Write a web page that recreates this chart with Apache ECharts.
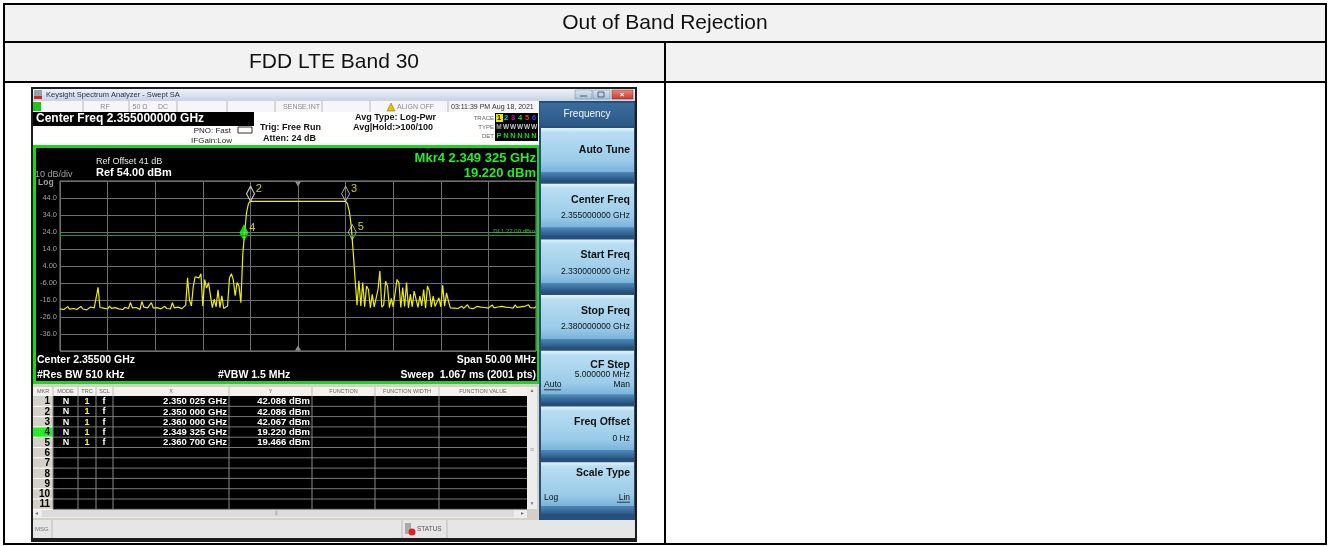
<!DOCTYPE html>
<html>
<head>
<meta charset="utf-8">
<title>Out of Band Rejection</title>
<script src="https://cdn.jsdelivr.net/npm/echarts/dist/echarts.min.js"></script>
<style>
  html, body { margin: 0; padding: 0; background: #fff; }
  #chart { width: 1330px; height: 546px; }
</style>
</head>
<body>
<div id="chart"></div>
<script>
(function () {
  'use strict';

  // ---- data ----
  const traceStartGHz = 2.330;
  const traceStepGHz = 0.0002;
  const traceDbm = [
    // 2.3300 .. 2.3430 noise floor
    -21.2, -20.4, -21.6, -20.8, -19.9, -21.4, -20.6, -21.0, -20.2, -21.5,
    -20.7, -19.8, -21.3, -20.5, -21.8, -20.9, -20.1, -21.2, -20.6, -21.0,
    -8.6, -20.4, -21.5, -20.8, -20.2, -21.3, -19.6, -20.9, -21.4, -20.5,
    -20.0, -21.2, -20.7, -21.6, -20.3, -19.8, -21.0, -17.4, -20.6, -21.3,
    -20.4, -20.9, -21.5, -16.9, -20.2, -21.1, -20.6, -19.9, -17.6, -20.8,
    -21.4, -20.5, -20.1, -21.2, -20.7, -19.7, -21.0, -20.4, -21.3, -17.5,
    -20.6, -21.0, -20.2, -19.5, -21.1, -20.3,
    // lower spurs
    -19.0, -3.0, -16.0, -19.5, -8.0, -2.3, -1.5, -3.0, -0.6, -19.5,
    -4.0, -9.0, -5.8, -6.5, -20.5, -15.5, -20.0, -10.0, -20.5, -13.5,
    -21.0, -20.0, -19.5, -3.0, -0.5, -4.0, -13.5, -5.8, -7.8, -17.6,
    // lower edge
    11.0, 24.0, 35.5, 40.8,
    // in band 2.3500 .. 2.3600
    42.09, 42.05, 42.02, 42.06, 42.08, 42.03, 42.01, 42.05, 42.07, 42.04,
    42.02, 42.06, 42.08, 42.05, 42.03, 42.07, 42.04, 42.02, 42.06, 42.05,
    42.08, 42.03, 42.05, 42.07, 42.02, 42.04, 42.06, 42.03, 42.08, 42.05,
    42.02, 42.06, 42.04, 42.07, 42.03, 42.05, 42.08, 42.02, 42.06, 42.04,
    42.05, 42.07, 42.03, 42.06, 42.02, 42.05, 42.08, 42.04, 42.06, 42.03,
    42.07,
    // upper edge
    40.5, 36.0, 27.0, 12.0, -4.0, -19.0,
    // upper spurs
    -4.7, -19.5, -5.8, -20.0, -7.8, -9.8, -20.5, -12.7, -20.0, -19.5,
    -10.0, 1.0, -20.2, -19.0, -5.0, -7.8, -20.5, -15.0, -20.0, -19.6,
    -3.9, -5.8, -20.4, -8.7, -19.8, -5.8, -20.6, -12.7, -20.0, -10.8,
    -15.5, -20.3, -13.7, -19.5, -9.8, -20.8, -7.8, -10.8, -20.2, -13.7,
    -19.8, -20.5, -14.7, -20.0, -7.4, -19.6, -11.8, -16.6,
    // 2.3610 .. 2.3800 noise floor
    -20.6, -19.9, -20.8, -20.2, -21.0, -20.4, -19.7, -20.9, -20.3, -18.8,
    -20.7, -20.1, -21.1, -20.5, -19.8, -20.6, -20.2, -20.9, -20.4, -19.9,
    -20.8, -20.3, -18.9, -20.6, -21.0, -20.1, -20.5, -19.8, -20.7, -20.2,
    -20.9, -20.4, -19.6, -20.8, -18.9, -20.3, -20.7, -20.0, -20.6, -19.8,
    -20.4, -18.8, -20.5, -20.1, -20.7, -19.9
  ];

  const markerNames = ['1', '2', '3', '4', '5'];
  const markerFreqGHz = [2.350025, 2.350000, 2.360000, 2.349325, 2.360700];
  const markerDbm = [42.086, 42.086, 42.067, 19.220, 19.466];
  const activeMarker = 3;
  const displayLineDbm = 22;
  const centerFreqGHz = 2.355;
  const startFreqGHz = 2.330;
  const stopFreqGHz = 2.380;
  const refLevelDbm = 54;
  const bottomDbm = -46;
  const yTickValues = [44, 34, 24, 14, 4, -6, -16, -26, -36];
  const yTickLabels = ['44.0', '34.0', '24.0', '14.0', '4.00', '-6.00', '-16.0', '-26.0', '-36.0'];

  const softkeyTitles = ['Auto Tune', 'Center Freq', 'Start Freq', 'Stop Freq', 'CF Step', 'Freq Offset', 'Scale Type'];
  const softkeyValues = ['', '2.355000000 GHz', '2.330000000 GHz', '2.380000000 GHz', '5.000000 MHz', '0 Hz', ''];

  const tableHeaders = ['MKR', 'MODE', 'TRC', 'SCL', 'X', 'Y', 'FUNCTION', 'FUNCTION WIDTH', 'FUNCTION VALUE'];
  const tableRowCount = 11;

  // ---- drawing helpers ----
  const FONT = "'Liberation Sans', Arial, sans-serif";

  function rect(x, y, w, h, fill, extra) {
    return Object.assign({ type: 'rect', silent: true, z: -5, shape: { x: x, y: y, width: w, height: h }, style: { fill: fill } }, extra || {});
  }
  function line(x1, y1, x2, y2, stroke, w, z) {
    return { type: 'line', silent: true, z: z == null ? -4 : z, shape: { x1: x1, y1: y1, x2: x2, y2: y2 }, style: { stroke: stroke, lineWidth: w || 1 } };
  }
  function text(x, y, s, size, color, opts) {
    opts = opts || {};
    const align = opts.align || 'left';
    return {
      type: 'text', silent: true, z: 10, x: x, y: y,
      style: {
        text: s, fill: color,
        font: (opts.bold ? 'bold ' : '') + size + 'px ' + FONT,
        align: align, textAlign: align, verticalAlign: 'middle', textVerticalAlign: 'middle'
      }
    };
  }
  function vgrad(stops) {
    return new echarts.graphic.LinearGradient(0, 0, 0, 1, stops.map(s => ({ offset: s[0], color: s[1] })));
  }
  function fmtGHz(f) {
    return f.toFixed(6).replace(/^(\d\.\d{3})/, '$1 ') + ' GHz';
  }

  const g = [];

  // ---- outer report table ----
  g.push(rect(4, 4, 1322, 38, '#f2f2f2'));
  g.push(rect(4, 42, 1322, 40, '#f2f2f2'));
  [4, 42, 82, 544].forEach(y => g.push(line(3, y, 1327, y, '#000', 2)));
  [4, 1326].forEach(x => g.push(line(x, 3, x, 545, '#000', 2)));
  g.push(line(665, 42, 665, 545, '#000', 2));
  g.push(text(665, 23, 'Out of Band Rejection', 21, '#111', { align: 'center' }));
  g.push(text(334, 62, 'FDD LTE Band 30', 21, '#111', { align: 'center' }));

  // ---- analyzer window frame ----
  g.push(rect(31, 87, 606, 455, '#1c1c1c'));
  g.push(rect(33, 89, 602, 12, vgrad([[0, '#eef2f8'], [1, '#c6d3e4']])));
  g.push(rect(34, 90, 8, 6, '#9aa0a8'));
  g.push(rect(34, 96, 8, 3, '#d02828'));
  g.push(text(46, 95, 'Keysight Spectrum Analyzer - Swept SA', 7.5, '#1e2c48'));
  const btnFill = vgrad([[0, '#dde8f4'], [1, '#a9bfd8']]);
  g.push(rect(575, 90, 17, 9, btnFill, { style: { fill: btnFill, stroke: '#6f86a0', lineWidth: 0.5 } }));
  g.push(rect(593, 90, 17, 9, btnFill, { style: { fill: btnFill, stroke: '#6f86a0', lineWidth: 0.5 } }));
  const closeFill = vgrad([[0, '#e88b80'], [1, '#c8382c']]);
  g.push(rect(612, 90, 21, 9, closeFill, { style: { fill: closeFill, stroke: '#8a2a22', lineWidth: 0.5 } }));
  g.push(line(580, 96, 587, 96, '#45607e', 1, -3));
  g.push(rect(598, 92, 6, 5, 'none', { z: -3, style: { fill: 'none', stroke: '#45607e', lineWidth: 1 } }));
  g.push(text(622, 94.5, '×', 8, '#fff', { align: 'center', bold: true }));

  // status row
  g.push(rect(33, 101, 506, 11, '#f7f5f7'));
  g.push(rect(33, 102, 8, 9, '#18c818'));
  [83, 129, 177, 227, 275, 322, 370, 448].forEach(x => g.push(line(x, 101, x, 112, '#b8b8b8', 1)));
  g.push(text(105, 107, 'RF', 7, '#8a8a8a', { align: 'center' }));
  g.push(text(140, 107, '50 Ω', 7, '#8a8a8a', { align: 'center' }));
  g.push(text(163, 107, 'DC', 7, '#8a8a8a', { align: 'center' }));
  g.push(text(320, 107, 'SENSE:INT', 7, '#8a8a8a', { align: 'right' }));
  g.push({ type: 'polygon', silent: true, z: 10, shape: { points: [[387, 111], [391, 103], [395, 111]] }, style: { fill: '#e8c000', stroke: '#806000', lineWidth: 0.5 } });
  g.push(text(397, 107, 'ALIGN OFF', 7, '#8a8a8a'));
  g.push(text(451, 107, '03:11:39 PM Aug 18, 2021', 7, '#333'));

  // settings area
  g.push(rect(33, 112, 506, 34, '#ffffff'));
  g.push(rect(33, 112, 221, 14, '#000'));
  g.push(text(36, 119, 'Center Freq 2.355000000 GHz', 12, '#fff', { bold: true }));
  g.push(text(231, 131, 'PNO: Fast', 8, '#222', { align: 'right' }));
  g.push(text(232, 141, 'IFGain:Low', 8, '#222', { align: 'right' }));
  g.push(rect(238, 127, 14, 6, 'none', { z: 10, style: { fill: 'none', stroke: '#333', lineWidth: 1 } }));
  g.push(text(260, 128, 'Trig: Free Run', 9, '#111', { bold: true }));
  g.push(text(263, 139, 'Atten: 24 dB', 9, '#111', { bold: true }));
  g.push(text(355, 118, 'Avg Type: Log-Pwr', 9, '#111', { bold: true }));
  g.push(text(353, 128, 'Avg|Hold:>100/100', 9, '#111', { bold: true }));
  g.push(text(494, 118, 'TRACE', 6, '#666', { align: 'right' }));
  g.push(text(494, 127, 'TYPE', 6, '#666', { align: 'right' }));
  g.push(text(494, 136, 'DET', 6, '#666', { align: 'right' }));
  g.push(rect(495, 113, 43, 28, '#000'));
  const traceColors = ['#000', '#00e0e0', '#e000e0', '#20e020', '#ff3030', '#4040ff'];
  for (let k = 0; k < 6; k++) {
    const cx = 499 + k * 7;
    if (k === 0) g.push(rect(cx - 3, 114, 7, 8, '#e8e800', { z: 9 }));
    g.push(text(cx, 118, String(k + 1), 7.5, traceColors[k], { bold: true, align: 'center' }));
    g.push(text(cx, 127, k === 0 ? 'M' : 'W', 6.5, k === 0 ? '#aaa' : '#ccc', { bold: true, align: 'center' }));
    g.push(text(cx, 136, k === 0 ? 'P' : 'N', 7.5, '#20d020', { bold: true, align: 'center' }));
  }

  // display area
  g.push(rect(33, 145, 507, 239, '#18d818'));
  g.push(rect(36, 148, 501, 233, '#000'));
  g.push(text(96, 162, 'Ref Offset 41 dB', 9, '#e8e8e8'));
  g.push(text(96, 173, 'Ref ' + refLevelDbm.toFixed(2) + ' dBm', 11, '#fff', { bold: true }));
  g.push(text(35, 175, '10 dB/div', 9, '#a0a0a0'));
  g.push(text(38, 183, 'Log', 8.5, '#a0a0a0', { bold: true }));
  g.push(text(536, 158, 'Mkr4 ' + fmtGHz(markerFreqGHz[activeMarker]), 13, '#22ee22', { bold: true, align: 'right' }));
  g.push(text(536, 173, markerDbm[activeMarker].toFixed(3) + ' dBm', 13, '#22ee22', { bold: true, align: 'right' }));
  g.push(text(37, 360, 'Center ' + centerFreqGHz.toFixed(5) + ' GHz', 10.5, '#fff', { bold: true }));
  g.push(text(37, 375, '#Res BW 510 kHz', 10.5, '#fff', { bold: true }));
  g.push(text(218, 375, '#VBW 1.5 MHz', 10.5, '#fff', { bold: true }));
  g.push(text(536, 360, 'Span ' + ((stopFreqGHz - startFreqGHz) * 1000).toFixed(2) + ' MHz', 10.5, '#fff', { bold: true, align: 'right' }));
  g.push(text(536, 375, 'Sweep  1.067 ms (2001 pts)', 10.5, '#fff', { bold: true, align: 'right' }));

  // marker table
  g.push(rect(33, 384, 506, 136, '#d4d0c8'));
  const colX = [33, 53, 78, 96, 113, 229, 312, 375, 439, 527];
  g.push(rect(33, 387, 494, 9, '#f2f1ed'));
  for (let c = 0; c < tableHeaders.length; c++) {
    const cx = (colX[c] + colX[c + 1]) / 2;
    g.push(text(cx, 391.5, tableHeaders[c], 5.5, '#666', { align: 'center' }));
    if (c > 0) g.push(line(colX[c], 387, colX[c], 396, '#c0c0c0', 1));
  }
  const rowTop = 396, rowH = 10.3;
  g.push(rect(53, rowTop, 474, rowH * tableRowCount, '#000'));
  for (let r = 0; r < tableRowCount; r++) {
    const y0 = rowTop + r * rowH;
    const cy = y0 + rowH / 2;
    if (r === activeMarker) g.push(rect(33, y0, 20, rowH, '#22ee22', { z: -4 }));
    g.push(text(50, cy + 0.5, String(r + 1), 10, '#000', { bold: true, align: 'right' }));
    if (r < markerNames.length) {
      g.push(text(66, cy + 0.5, 'N', 9, '#fff', { bold: true, align: 'center' }));
      g.push(text(87, cy + 0.5, '1', 9, '#ffff00', { bold: true, align: 'center' }));
      g.push(text(104, cy + 0.5, 'f', 9, '#fff', { bold: true, align: 'center' }));
      g.push(text(227, cy + 0.5, fmtGHz(markerFreqGHz[r]), 9.5, '#fff', { bold: true, align: 'right' }));
      g.push(text(310, cy + 0.5, markerDbm[r].toFixed(3) + ' dBm', 9.5, '#fff', { bold: true, align: 'right' }));
    }
    g.push(line(53, y0 + rowH, 527, y0 + rowH, '#777', 1, -3));
    g.push(line(33, y0 + rowH, 53, y0 + rowH, '#fff', 1, -3));
  }
  for (let c = 1; c < colX.length - 1; c++) {
    g.push(line(colX[c], rowTop, colX[c], rowTop + rowH * tableRowCount, '#888', 1, -3));
  }
  // scrollbars
  g.push(rect(527, 387, 10, 122, '#ededed'));
  g.push(text(532, 391, '▲', 5, '#777', { align: 'center' }));
  g.push(text(532, 504, '▼', 5, '#777', { align: 'center' }));
  g.push(text(532, 450, '≡', 7, '#999', { align: 'center' }));
  g.push(rect(33, 509, 494, 9, '#ededed'));
  g.push(rect(42, 510, 472, 7, '#dcdcdc'));
  g.push(text(36, 513.5, '◂', 6, '#777', { align: 'center' }));
  g.push(text(522, 513.5, '▸', 6, '#777', { align: 'center' }));
  g.push(text(276, 513.5, '⦀', 6, '#999', { align: 'center' }));

  // message bar
  g.push(rect(33, 520, 602, 18, '#e6e6e6'));
  g.push(line(52, 520, 52, 538, '#bbb', 1));
  g.push(text(35, 529, 'MSG', 6, '#777'));
  g.push(line(402, 520, 402, 538, '#bbb', 1));
  g.push(line(447, 520, 447, 538, '#bbb', 1));
  g.push(rect(405, 523, 6, 11, '#aaa'));
  g.push({ type: 'circle', silent: true, z: 10, shape: { cx: 412, cy: 532, r: 3.5 }, style: { fill: '#e02020' } });
  g.push(text(417, 529, 'STATUS', 6.5, '#555'));

  // softkey panel
  g.push(rect(539, 101, 96, 419, '#26507c'));
  g.push(rect(540, 103, 94, 23, vgrad([[0, '#3a6c9e'], [1, '#2b5988']])));
  g.push(text(587, 114, 'Frequency', 10, '#f4f8ff', { align: 'center' }));
  const keyPitch = 55.7, keyTop0 = 128, keyH = 44;
  for (let k = 0; k < softkeyTitles.length; k++) {
    const top = keyTop0 + k * keyPitch;
    g.push(rect(541, top, 93, keyH, vgrad([[0, '#e6f4fc'], [0.1, '#b9def3'], [0.75, '#9acbe8'], [1, '#78b2da']])));
    g.push(rect(541, top + keyH, 93, 8, vgrad([[0, '#4d88b8'], [1, '#2a5784']])));
    const hasValue = softkeyValues[k] !== '';
    let titleY = top + (hasValue ? 16 : 22);
    if (k === 4) titleY = top + 14;
    if (k === 6) titleY = top + 11;
    g.push(text(630, titleY, softkeyTitles[k], 10.5, '#111', { bold: true, align: 'right' }));
    if (hasValue) g.push(text(630, titleY + (k === 4 ? 10 : 16), softkeyValues[k], 8.5, '#111', { align: 'right' }));
  }
  const cfTop = keyTop0 + 4 * keyPitch, stTop = keyTop0 + 6 * keyPitch;
  g.push(text(544, cfTop + 34, 'Auto', 8.5, '#111'));
  g.push(line(544, cfTop + 39, 561, cfTop + 39, '#111', 0.8, 10));
  g.push(text(630, cfTop + 34, 'Man', 8.5, '#111', { align: 'right' }));
  g.push(text(544, stTop + 35, 'Log', 8.5, '#111'));
  g.push(text(630, stTop + 35, 'Lin', 8.5, '#111', { align: 'right' }));
  g.push(line(617, stTop + 40, 630, stTop + 40, '#111', 0.8, 10));

  // ---- chart ----
  const traceData = traceDbm.map((v, i) => [+(traceStartGHz + i * traceStepGHz).toFixed(4), v]);
  const markerData = markerFreqGHz.map((f, i) => ({
    value: [f, markerDbm[i]],
    itemStyle: i === activeMarker
      ? { color: '#22ff22', borderColor: '#22ff22', borderWidth: 1 }
      : { color: 'rgba(0,0,0,0)', borderColor: '#d0d0d0', borderWidth: 1 },
    label: { show: i !== 0 }
  }));

  const chart = echarts.init(document.getElementById('chart'));
  chart.setOption({
    backgroundColor: '#ffffff',
    animation: false,
    graphic: { elements: g },
    grid: { left: 60, top: 181, width: 476, height: 170, show: true, borderColor: '#8c8c8c', borderWidth: 1, backgroundColor: 'transparent' },
    xAxis: {
      type: 'value', min: startFreqGHz, max: stopFreqGHz, interval: 0.005,
      axisLabel: { show: false }, axisTick: { show: false }, axisLine: { show: false },
      splitLine: { lineStyle: { color: '#6e6e6e', width: 1 } }
    },
    yAxis: {
      type: 'value', min: bottomDbm, max: refLevelDbm, interval: 10,
      axisTick: { show: false }, axisLine: { show: false },
      axisLabel: {
        color: '#a0a0a0', fontSize: 7.5, fontFamily: FONT, margin: 3,
        formatter: function (v) {
          const idx = yTickValues.indexOf(Math.round(v));
          return idx < 0 ? '' : yTickLabels[idx];
        }
      },
      splitLine: { lineStyle: { color: '#6e6e6e', width: 1 } }
    },
    series: [
      {
        name: 'Trace 1', type: 'line', data: traceData, showSymbol: false, silent: true,
        lineStyle: { color: '#eeee00', width: 1.2 },
        markLine: {
          silent: true, symbol: 'none', data: [{ yAxis: displayLineDbm }],
          lineStyle: { color: '#10a010', width: 1, type: 'solid' },
          label: { formatter: 'DL1 ' + displayLineDbm.toFixed(2) + ' dBm', position: 'insideEndTop', color: '#22cc22', fontSize: 6, fontFamily: FONT, distance: 1 }
        },
        markPoint: {
          silent: true, label: { show: false },
          itemStyle: { color: '#909090' },
          data: [
            { coord: [centerFreqGHz, refLevelDbm], symbol: 'triangle', symbolRotate: 180, symbolSize: [6, 5], symbolOffset: [0, 3] },
            { coord: [centerFreqGHz, bottomDbm], symbol: 'triangle', symbolSize: [6, 5], symbolOffset: [0, -3] }
          ]
        }
      },
      {
        name: 'Markers', type: 'scatter', data: markerData, silent: true,
        symbol: 'diamond', symbolSize: [8, 15], symbolOffset: [0, '-50%'], z: 4,
        label: {
          position: 'right', distance: 1, offset: [0, -5], color: '#ffff00', fontSize: 11, fontFamily: FONT,
          formatter: function (p) { return markerNames[p.dataIndex]; }
        }
      }
    ]
  });
})();
</script>
</body>
</html>
